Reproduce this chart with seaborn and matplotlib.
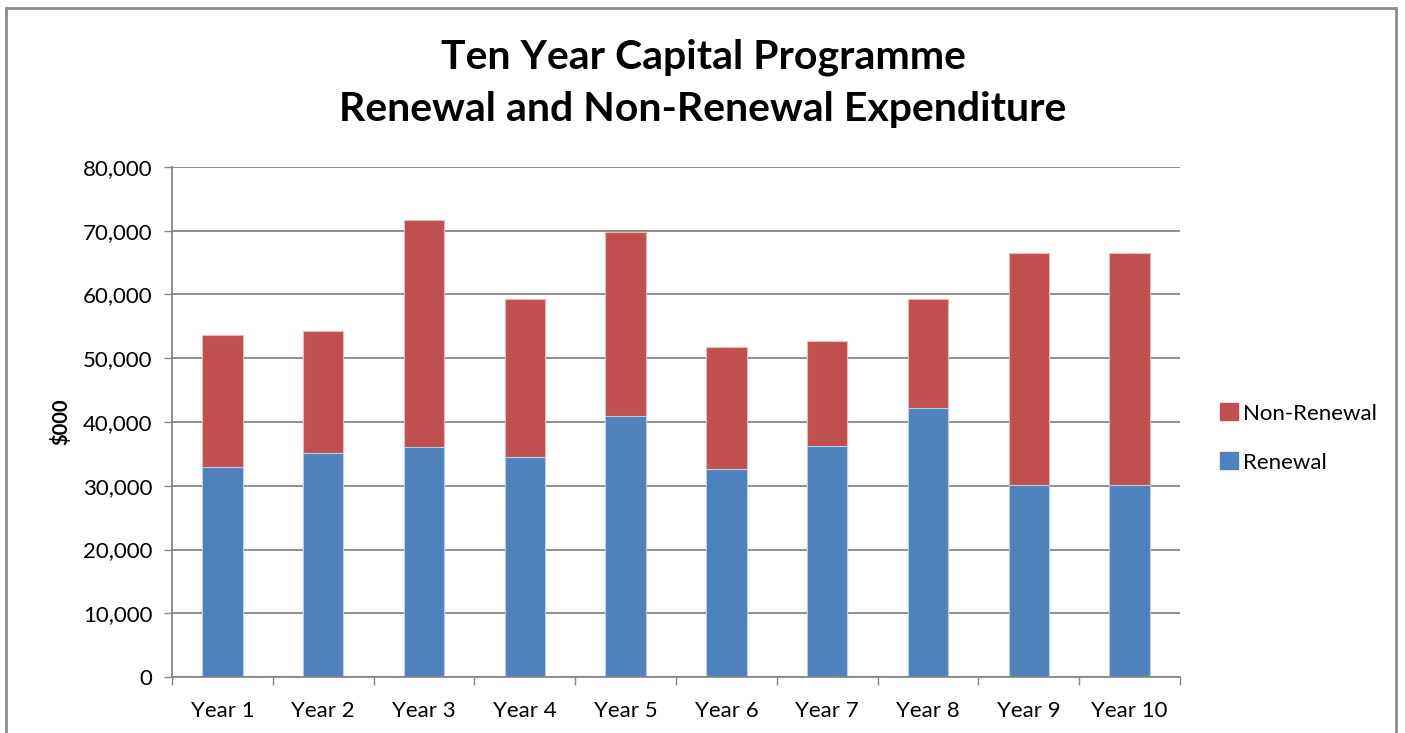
import matplotlib
matplotlib.use("Agg")
import numpy as np
import pandas as pd
import seaborn as sns
import matplotlib.pyplot as plt
from matplotlib.patches import Rectangle, Patch

years = ["Year 1", "Year 2", "Year 3", "Year 4", "Year 5",
         "Year 6", "Year 7", "Year 8", "Year 9", "Year 10"]
renewal = [33000, 35200, 36100, 34500, 41000, 32600, 36300, 42200, 30100, 30100]
non_renewal = [20600, 19100, 35600, 24800, 28800, 19100, 16400, 17100, 36400, 36400]
y_ticks = [0, 10000, 20000, 30000, 40000, 50000, 60000, 70000, 80000]

blue = "#4F81BD"
red = "#C0504D"
grey = "#868686"

sns.set_theme(style="white")
plt.rcParams['font.family'] = ['Lato', 'DejaVu Sans']
plt.rcParams['text.color'] = 'black'

data = pd.DataFrame({"year": years, "Renewal": renewal, "Non-Renewal": non_renewal})
data["total"] = data["Renewal"] + data["Non-Renewal"]

fig = plt.figure(figsize=(14.05, 7.33), dpi=100)
ax = fig.add_axes([172 / 1405, 56 / 733, 1008 / 1405, 510 / 733])

# stacked look: totals in red, renewal drawn over them in blue
sns.barplot(x="year", y="total", data=data, color=red, width=0.4,
            edgecolor="#e8b9b8", linewidth=0.8, ax=ax, saturation=1)
sns.barplot(x="year", y="Renewal", data=data, color=blue, width=0.4,
            edgecolor="#b9cde6", linewidth=0.8, ax=ax, saturation=1)

ax.set_xlim(-0.5, len(years) - 0.5)
ax.set_ylim(0, 80000)
ax.set_yticks(y_ticks)
ax.set_yticklabels([f"{v:,}" for v in y_ticks], fontsize=16, color="black")
ax.tick_params(axis="y", direction="out", length=6, width=1, color=grey, pad=8, left=True)
ax.set_xticks(range(len(years)))
ax.set_xticklabels(years, fontsize=16, color="black")
ax.tick_params(axis="x", which="major", length=0, pad=17)
ax.set_xticks(np.arange(-0.5, len(years)), minor=True)
ax.tick_params(axis="x", which="minor", direction="out", length=6, width=1, color=grey, bottom=True)

ax.yaxis.grid(True, color=grey, linewidth=1.3)
ax.set_axisbelow(True)
for side in ["top", "right"]:
    ax.spines[side].set_visible(False)
for side in ["left", "bottom"]:
    ax.spines[side].set_color(grey)
    ax.spines[side].set_linewidth(1.3)

ax.set_xlabel("")
ax.set_ylabel("$000", fontsize=14.5, fontweight="bold", color="black", labelpad=8)

fig.text(703 / 1405, 1 - 57 / 733, "Ten Year Capital Programme", ha="center", va="center",
         fontsize=29.5, fontweight="bold", color="black")
fig.text(703 / 1405, 1 - 110 / 733, "Renewal and Non-Renewal Expenditure", ha="center", va="center",
         fontsize=29.5, fontweight="bold", color="black")

handles = [Patch(facecolor=red, edgecolor=red), Patch(facecolor=blue, edgecolor=blue)]
fig.legend(handles, ["Non-Renewal", "Renewal"], loc="center left",
           bbox_to_anchor=(1200 / 1405, 1 - 438 / 733), frameon=False, fontsize=16,
           handlelength=0.8, handleheight=0.8, handletextpad=0.25, labelspacing=1.3)

fig.add_artist(Rectangle((6 / 1405, -0.05), 1390 / 1405, (733 - 8) / 733 + 0.05,
                         transform=fig.transFigure, fill=False, edgecolor="#8c8c8c", linewidth=2))

fig.savefig("out.png", dpi=100)
